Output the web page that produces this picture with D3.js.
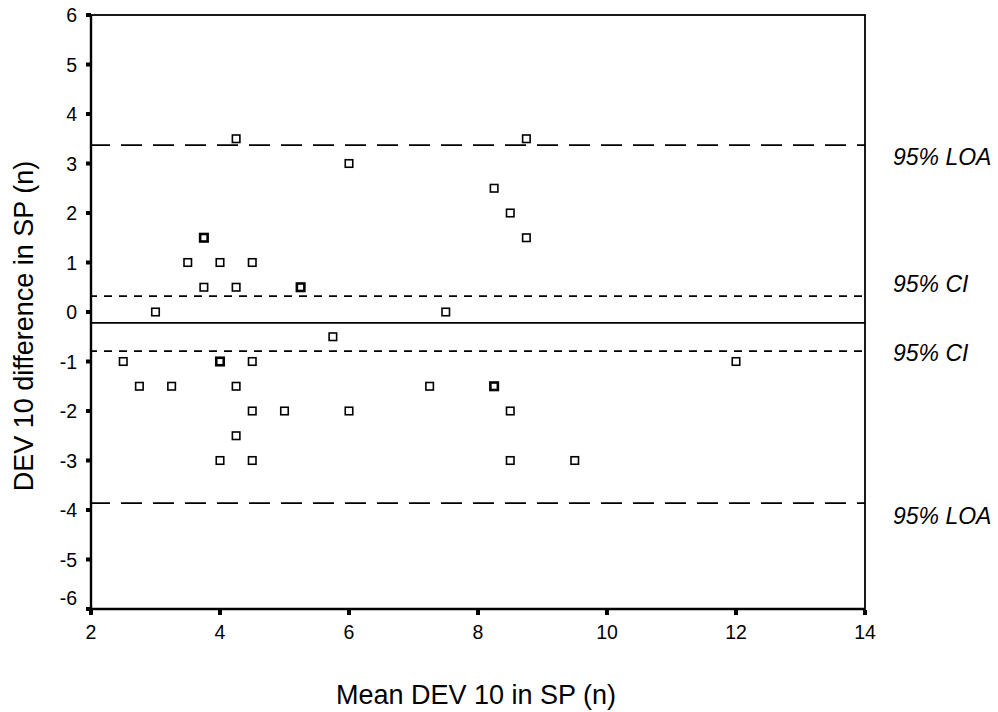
<!DOCTYPE html>
<html><head><meta charset="utf-8">
<script src="https://cdn.jsdelivr.net/npm/d3@7"></script>
<style>body{margin:0;background:#fff}svg{display:block}text{font-family:"Liberation Sans",Arial,sans-serif;fill:#000}</style>
</head><body><svg id="c" width="998" height="712"></svg>
<script>
const meanX = [4.25,8.75,6,8.25,8.5,8.75,3.75,3.75,3.5,4,4.5,3.75,4.25,5.25,5.25,3,7.5,5.75,2.5,4,4,4.5,12,2.75,3.25,4.25,7.25,8.25,8.25,4.5,5,6,8.5,4.25,4,4.5,8.5,9.5];
const diffY = [3.5,3.5,3,2.5,2,1.5,1.5,1.5,1,1,1,0.5,0.5,0.5,0.5,0,0,-0.5,-1,-1,-1,-1,-1,-1.5,-1.5,-1.5,-1.5,-1.5,-1.5,-2,-2,-2,-2,-2.5,-3,-3,-3,-3];
const refNames = ["95% LOA","95% CI","mean","95% CI","95% LOA"];
const refValues = [3.37,0.32,-0.22,-0.79,-3.86];
const refKinds = ["loa","ci","mean","ci","loa"];
const xTicks = [2,4,6,8,10,12,14];
const yTicks = [-6,-5,-4,-3,-2,-1,0,1,2,3,4,5,6];

const svg = d3.select("#c");
const L=91,R=865,T=15,B=609;
const x = d3.scaleLinear().domain([2,14]).range([L,R]);
const y = d3.scaleLinear().domain([-6,6]).range([B,T]);

// reference lines
const dash = {loa:"21,11", ci:"8,7", mean:null};
const labelDy = [20,-4,0,10,21];
refValues.forEach((v,i)=>{
  const ln = svg.append("line").attr("x1",L).attr("x2",R).attr("y1",y(v)).attr("y2",y(v))
    .attr("stroke","#000").attr("stroke-width",1.8);
  if(dash[refKinds[i]]) ln.attr("stroke-dasharray",dash[refKinds[i]]).attr("stroke-dashoffset",2);
  if(refKinds[i]!=="mean"){
    svg.append("text").attr("x",893).attr("y",y(v)+labelDy[i]).attr("font-size",23)
      .attr("font-style","italic").text(refNames[i]);
  }
});

// frame
svg.append("rect").attr("x",L).attr("y",T).attr("width",R-L).attr("height",B-T)
  .attr("fill","none").attr("stroke","#000").attr("stroke-width",1.8);
svg.append("line").attr("x1",L).attr("x2",L).attr("y1",T).attr("y2",B).attr("stroke","#000").attr("stroke-width",2.4);
svg.append("line").attr("x1",L).attr("x2",R).attr("y1",B).attr("y2",B).attr("stroke","#000").attr("stroke-width",2.4);

// y axis ticks & labels
yTicks.forEach(t=>{
  svg.append("rect").attr("x",L-5).attr("y",y(t)-2).attr("width",5).attr("height",4).attr("fill","#000");
  svg.append("text").attr("x",L-14).attr("y",y(t)+7 - (t===-6?11:0)).attr("text-anchor","end")
    .attr("font-size",19.5).text(t);
});
// x axis ticks & labels
xTicks.forEach(t=>{
  svg.append("rect").attr("x",x(t)-2).attr("y",B+1).attr("width",4).attr("height",5).attr("fill","#000");
  svg.append("text").attr("x",x(t)).attr("y",B+30).attr("text-anchor","middle")
    .attr("font-size",19.5).text(t);
});

// points (duplicates drawn heavier)
const pts = meanX.map((m,i)=>({x:m,y:diffY[i]}));
const counts = d3.rollup(pts,v=>v.length,d=>d.x+"|"+d.y);
const uniq = Array.from(counts,([k,n])=>{const [a,b]=k.split("|").map(Number);return {x:a,y:b,n};});
svg.selectAll("rect.pt").data(uniq).join("rect").attr("class","pt")
  .attr("x",d=>x(d.x)-3.75).attr("y",d=>y(d.y)-3.75).attr("width",7.5).attr("height",7.5)
  .attr("fill","#fff").attr("stroke","#000").attr("stroke-width",d=>d.n>1?2.6:1.6);

// axis titles
svg.append("text").attr("x",476).attr("y",704).attr("text-anchor","middle").attr("font-size",27)
  .text("Mean DEV 10 in SP (n)");
svg.append("text").attr("transform","translate(33,326) rotate(-90)").attr("text-anchor","middle")
  .attr("font-size",27).text("DEV 10 difference in SP (n)");
</script></body></html>
